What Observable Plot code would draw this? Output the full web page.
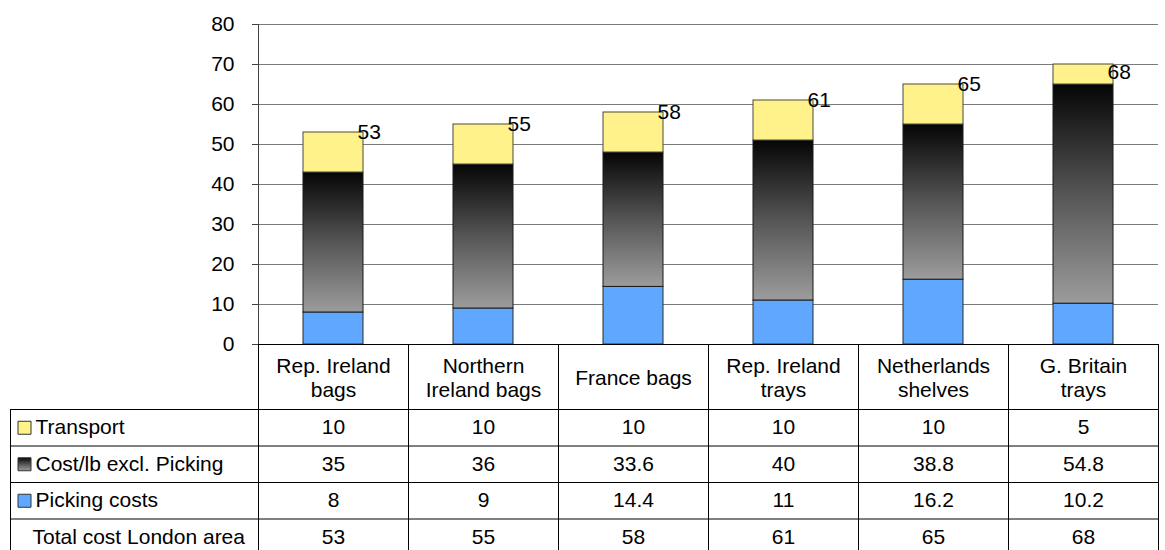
<!DOCTYPE html>
<html>
<head>
<meta charset="utf-8">
<script src="https://cdn.jsdelivr.net/npm/d3@7"></script>
<script src="https://cdn.jsdelivr.net/npm/@observablehq/plot@0.6"></script>
<style>
  html, body { margin: 0; padding: 0; background: #fff; overflow: hidden; }
  #chart svg { display: block; }
</style>
</head>
<body>
<div id="chart"></div>
<script>
// ---------- data ----------
const categories = ["Rep. Ireland bags", "Northern Ireland bags", "France bags", "Rep. Ireland trays", "Netherlands shelves", "G. Britain trays"];
const categoryLines = [["Rep. Ireland", "bags"], ["Northern", "Ireland bags"], ["France bags"], ["Rep. Ireland", "trays"], ["Netherlands", "shelves"], ["G. Britain", "trays"]];
const seriesNames = ["Transport", "Cost/lb excl. Picking", "Picking costs"];
const transport = [10, 10, 10, 10, 10, 5];
const costExclPicking = [35, 36, 33.6, 40, 38.8, 54.8];
const pickingCosts = [8, 9, 14.4, 11, 16.2, 10.2];
const totalLabel = "Total cost London area";
const totalCost = [53, 55, 58, 61, 65, 68];
const yTicks = [0, 10, 20, 30, 40, 50, 60, 70, 80];

// ---------- layout / style ----------
const W = 1165, H = 550, mL = 258, mR = 7, mT = 24, mB = 206;
const yMax = 80;
const unitPerPx = yMax / (H - mT - mB);
const yBelow = px => -px * unitPerPx;          // pixel offset below frame -> y units
const bw = (W - mL - mR) / categories.length;  // band width
const leftCol = mL - 10;                        // width of row-label column
const headerH = 65, rowH = 36.5;
const rowMid = r => yBelow(headerH + (r + 0.5) * rowH);
const tableBottom = yBelow(headerH + 4 * rowH);
const rowLines = [0, 1, 2, 3, 4].map(r => yBelow(headerH + r * rowH));
const FS = 21;
const yellow = "#FFF28A", blue = "#60A8FF", grad = "url(#costGrad)";
const barInset = (bw - 60) / 2;

const stacks = categories.map((c, i) => {
  const p = pickingCosts[i], q = costExclPicking[i], t = transport[i];
  return {cat: c, p0: 0, p1: p, c0: p, c1: p + q, t0: p + q, t1: p + q + t};
});

const tableRows = [
  {label: seriesNames[0], values: transport, swatch: yellow},
  {label: seriesNames[1], values: costExclPicking, swatch: grad},
  {label: seriesNames[2], values: pickingCosts, swatch: blue},
  {label: totalLabel, values: totalCost, swatch: null}
];

function gradientDefs() {
  const ns = "http://www.w3.org/2000/svg";
  const g = document.createElementNS(ns, "g");
  g.innerHTML = `<defs><linearGradient id="costGrad" x1="0" y1="0" x2="0" y2="1">
    <stop offset="0" stop-color="#050505"/>
    <stop offset="0.5" stop-color="#555555"/>
    <stop offset="1" stop-color="#9c9c9c"/>
  </linearGradient></defs>`;
  return g;
}

const tableMarks = tableRows.flatMap((row, r) => {
  const marks = [
    Plot.text(categories, {x: d => d, y: rowMid(r), text: (d, i) => String(row.values[i]),
      fontSize: FS, fill: "#000", lineAnchor: "middle"}),
    Plot.text([row.label], {frameAnchor: "left", y: rowMid(r), text: d => d,
      dx: row.swatch ? (35 - mL) : (32 - mL), textAnchor: "start", lineAnchor: "middle",
      fontSize: FS, fill: "#000"})
  ];
  if (row.swatch) {
    marks.push(Plot.dot([row.label], {frameAnchor: "left", y: rowMid(r), dx: 24 - mL,
      symbol: "square", r: 13 / Math.sqrt(Math.PI), fill: row.swatch, stroke: "#333", strokeWidth: 1}));
  }
  return marks;
});

const chart = Plot.plot({
  width: W, height: H,
  marginLeft: mL, marginRight: mR, marginTop: mT, marginBottom: mB,
  style: {fontFamily: "'Liberation Sans', Arial, sans-serif", fontSize: FS + "px", background: "#fff", color: "#000"},
  x: {type: "band", domain: categories, padding: 0, axis: null},
  y: {domain: [0, yMax], axis: null},
  marks: [
    gradientDefs,
    // gridlines
    Plot.ruleY(yTicks.filter(t => t > 0), {stroke: "#7a7a7a", strokeWidth: 1}),
    // y axis
    Plot.axisY({ticks: yTicks, tickSize: 6, tickPadding: 18, fontSize: FS, stroke: "#404040", tickFormat: d => String(d)}),
    Plot.ruleX([categories[0]], {dx: -bw / 2, y1: 0, y2: yMax, stroke: "#404040"}),
    // bars
    Plot.barY(stacks, {x: "cat", y1: "p0", y2: "p1", fill: blue, stroke: "#2a2a2a", strokeWidth: 1, insetLeft: barInset, insetRight: barInset}),
    Plot.barY(stacks, {x: "cat", y1: "c0", y2: "c1", fill: grad, stroke: "#1a1a1a", strokeWidth: 1, insetLeft: barInset, insetRight: barInset}),
    Plot.barY(stacks, {x: "cat", y1: "t0", y2: "t1", fill: yellow, stroke: "#4a4a3a", strokeWidth: 1, insetLeft: barInset, insetRight: barInset}),
    // total labels
    Plot.text(categories, {x: d => d, y: (d, i) => totalCost[i], text: (d, i) => String(totalCost[i]),
      dx: 24, textAnchor: "start", lineAnchor: "middle", fontSize: FS, fill: "#000"}),
    // baseline / table top
    Plot.ruleY([0], {stroke: "#000"}),
    // table horizontal lines
    Plot.ruleY(rowLines, {stroke: "#000", insetLeft: -leftCol}),
    // table vertical lines
    Plot.ruleX(categories, {x: d => d, dx: -bw / 2, y1: 0, y2: tableBottom, stroke: "#000"}),
    Plot.ruleX([categories[categories.length - 1]], {dx: bw / 2, y1: 0, y2: tableBottom, stroke: "#000"}),
    Plot.ruleX([categories[0]], {dx: -bw / 2 - leftCol, y1: rowLines[0], y2: tableBottom, stroke: "#000"}),
    // header (category labels)
    Plot.text(categories, {x: d => d, y: yBelow(headerH / 2), text: (d, i) => categoryLines[i].join("\n"),
      lineHeight: 1.18, lineAnchor: "middle", fontSize: FS, fill: "#000"}),
    ...tableMarks
  ]
});

document.getElementById("chart").appendChild(chart);
</script>
</body>
</html>
